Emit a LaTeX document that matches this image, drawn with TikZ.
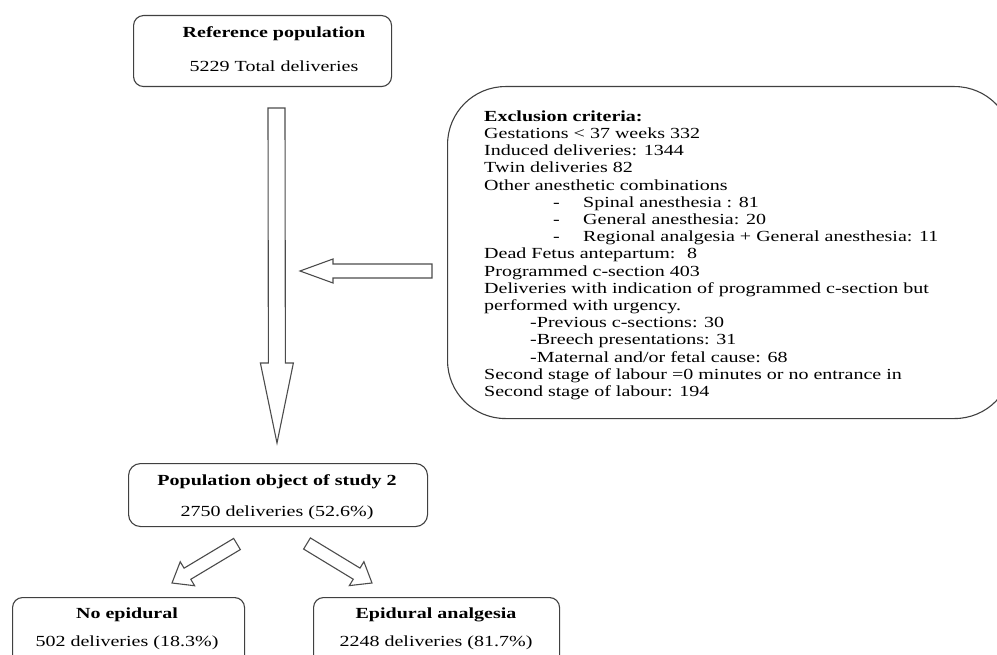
\documentclass[tikz,border=0pt]{standalone}
\usepackage{fontspec}
\setmainfont{Liberation Serif}[FakeStretch=1.3]
\usetikzlibrary{calc}
\tikzset{
  box/.style={draw=black!75, line width=1.1pt, rounded corners=10pt, anchor=north west, inner sep=0pt},
  arrowline/.style={draw=black!70, line width=1.1pt, fill=white, line join=miter},
  txt/.style={inner sep=0pt, anchor=base, font=\fontsize{15.4}{17.2}\selectfont},
  hd/.style={txt, font=\fontsize{15.4}{17.2}\selectfont\bfseries},
}
\newcommand\blockarr[6]{%
  \coordinate (#1b) at ($(#3)!#6!(#2)$);
  \draw[arrowline] ($(#2)!#4!90:(#3)$) -- ($(#1b)!#4!-90:(#2)$) -- ($(#1b)!#5!-90:(#2)$)
    -- (#3) -- ($(#1b)!#5!90:(#2)$) -- ($(#1b)!#4!90:(#2)$) -- ($(#2)!#4!-90:(#3)$) -- cycle;}
\begin{document}
\begin{tikzpicture}[x=1pt,y=-1pt]
\useasboundingbox (0,0) rectangle (997,655);
\clip (0,0) rectangle (997,655);

% boxes
\node[box, minimum width=258pt, minimum height=71pt] (ref) at (133,15) {};
\node[hd] (ref1) at (274,38) {Reference population};
\node[txt] (ref2) at (274,72) {5229 Total deliveries};

\node[box, rounded corners=58pt, minimum width=565pt, minimum height=332pt] (excl) at (447,86) {};
\node[txt, anchor=north west, align=left] (excltxt) at (484,110.5) {%
\textbf{Exclusion criteria:}\\
Gestations < 37 weeks 332\\
Induced deliveries: 1344\\
Twin deliveries 82\\
Other anesthetic combinations\\
\hspace*{69pt}\makebox[30pt][l]{-}Spinal anesthesia : 81\\
\hspace*{69pt}\makebox[30pt][l]{-}General anesthesia: 20\\
\hspace*{69pt}\makebox[30pt][l]{-}Regional analgesia + General anesthesia: 11\\
Dead Fetus antepartum:~ 8\\
Programmed c-section 403\\
Deliveries with indication of programmed c-section but\\
performed with urgency.\\
\hspace*{46pt}-Previous c-sections: 30\\
\hspace*{46pt}-Breech presentations: 31\\
\hspace*{46pt}-Maternal and/or fetal cause: 68\\
Second stage of labour =0 minutes or no entrance in\\
Second stage of labour: 194};

\node[box, rounded corners=12pt, minimum width=299pt, minimum height=63pt] (pop) at (128,463) {};
\node[hd] (pop1) at (277,485) {Population object of study 2};
\node[txt] (pop2) at (277,516) {2750 deliveries (52.6\%)};

\node[box, minimum width=232pt, minimum height=80pt] (noep) at (12,597) {};
\node[hd] (noep1) at (127,618) {No epidural};
\node[txt] (noep2) at (127,646) {502 deliveries (18.3\%)};

\node[box, minimum width=246pt, minimum height=80pt] (ep) at (313,597) {};
\node[hd] (ep1) at (436,618) {Epidural analgesia};
\node[txt] (ep2) at (436,646) {2248 deliveries (81.7\%)};

% block arrows
\coordinate (vt) at (276.5,108); \coordinate (vp) at (277,443);
\blockarr{va}{vt}{vp}{8.5pt}{16.5pt}{80pt}
\coordinate (ht) at (432,271); \coordinate (hp) at (300,271);
\blockarr{ha}{ht}{hp}{7pt}{12pt}{33pt}
\coordinate (lt) at (237,544); \coordinate (lp) at (172,583);
\blockarr{la}{lt}{lp}{6.5pt}{14pt}{18pt}
\coordinate (rt) at (307,543.5); \coordinate (rp) at (372,583);
\blockarr{ra}{rt}{rp}{6.5pt}{14pt}{18pt}
\end{tikzpicture}
\end{document}
